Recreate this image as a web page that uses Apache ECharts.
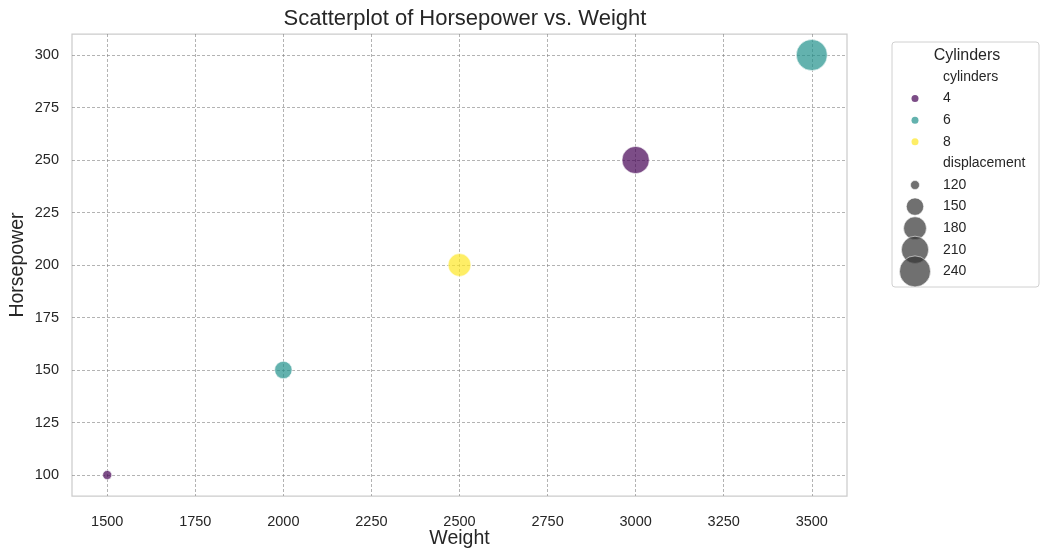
<!DOCTYPE html>
<html>
<head>
<meta charset="utf-8">
<script src="https://cdn.jsdelivr.net/npm/echarts@6/dist/echarts.min.js"></script>
<style>
  html, body { margin: 0; padding: 0; background: #fff; }
  #chart { width: 1048px; height: 557px; }
</style>
</head>
<body>
<div id="chart"></div>
<script>
// data
var weight = [1500, 2000, 2500, 3000, 3500];
var horsepower = [100, 150, 200, 250, 300];
var cylinders = [4, 6, 8, 4, 6];
var displacement = [120, 150, 180, 210, 240];

var cylinderLevels = [4, 6, 8];
var cylinderColors = ['#440154', '#21918c', '#fde725'];
var sizeLevels = [120, 150, 180, 210, 240];
var xTicks = [1500, 1750, 2000, 2250, 2500, 2750, 3000, 3250, 3500];
var yTicks = [100, 125, 150, 175, 200, 225, 250, 275, 300];

var FONT = '"Liberation Sans", Arial, sans-serif';
var TEXT = '#262626';

// area grows linearly with displacement (like seaborn sizes)
function markerSize(v) {
  var a0 = 81, a1 = 961;
  var t = (v - 120) / (240 - 120);
  return Math.sqrt(a0 + t * (a1 - a0));
}

var series = cylinderLevels.map(function (c, k) {
  var pts = [];
  for (var i = 0; i < weight.length; i++) {
    if (cylinders[i] === c) pts.push([weight[i], horsepower[i], displacement[i]]);
  }
  return {
    name: String(c),
    type: 'scatter',
    data: pts,
    symbolSize: function (val) { return markerSize(val[2]); },
    itemStyle: {
      color: cylinderColors[k],
      opacity: 0.7,
      borderColor: '#ffffff',
      borderWidth: 0.8
    }
  };
});

// legend box drawn as graphic
var lx = 915, labelX = 943, legendTop = 42;
var legendItems = [];
legendItems.push({
  type: 'rect', shape: { x: 892, y: legendTop, width: 147, height: 245, r: 3 },
  style: { fill: '#ffffff', stroke: '#d0d0d0', lineWidth: 1 }
});
legendItems.push({
  type: 'text', x: 967, y: 56,
  style: { text: 'Cylinders', font: '16px ' + FONT, fill: TEXT, textAlign: 'center', textVerticalAlign: 'middle' }
});
var rowY = 77, step = 21.6;
function legendText(str, y) {
  legendItems.push({
    type: 'text', x: labelX, y: y,
    style: { text: str, font: '14px ' + FONT, fill: TEXT, textVerticalAlign: 'middle' }
  });
}
legendText('cylinders', rowY);
cylinderLevels.forEach(function (c, k) {
  var y = rowY + step * (k + 1);
  legendItems.push({
    type: 'circle', shape: { cx: lx, cy: y, r: 3.5 },
    style: { fill: cylinderColors[k], opacity: 0.7 }
  });
  legendText(String(c), y);
});
legendText('displacement', rowY + step * 4);
sizeLevels.forEach(function (s, k) {
  var y = rowY + step * (5 + k);
  legendItems.push({
    type: 'circle', shape: { cx: lx, cy: y, r: markerSize(s) / 2 },
    style: { fill: '#333333', opacity: 0.7, stroke: '#ffffff', lineWidth: 0.8 }
  });
  legendText(String(s), y);
});

var chart = echarts.init(document.getElementById('chart'));
chart.setOption({
  backgroundColor: '#ffffff',
  animation: false,
  textStyle: { fontFamily: FONT },
  title: {
    text: 'Scatterplot of Horsepower vs. Weight',
    left: 460, top: 3, textAlign: 'center',
    textStyle: { fontSize: 22, fontWeight: 'normal', color: TEXT, fontFamily: FONT }
  },
  grid: {
    left: 72, right: 201, top: 34, bottom: 61,
    outerBoundsMode: 'none',
    show: true, borderColor: '#cccccc', borderWidth: 1.25, backgroundColor: '#ffffff'
  },
  xAxis: {
    type: 'value', min: 1400, max: 3600,
    name: 'Weight', nameLocation: 'middle', nameGap: 33, nameMoveOverlap: false,
    nameTextStyle: { fontSize: 19.5, color: TEXT, fontFamily: FONT },
    axisLine: { show: false },
    axisTick: { show: false, customValues: xTicks },
    axisLabel: {
      customValues: xTicks, fontSize: 14.5, color: TEXT, margin: 18, fontFamily: FONT,
      formatter: function (v) { return String(v); }
    },
    splitLine: { show: true, lineStyle: { color: '#808080', width: 0.6, type: [3, 2] } }
  },
  yAxis: {
    type: 'value', min: 90, max: 310,
    name: 'Horsepower', nameLocation: 'middle', nameGap: 44, nameMoveOverlap: false,
    nameTextStyle: { fontSize: 19.5, color: TEXT, fontFamily: FONT },
    axisLine: { show: false },
    axisTick: { show: false, customValues: yTicks },
    axisLabel: {
      customValues: yTicks, fontSize: 14.5, color: TEXT, margin: 13, fontFamily: FONT,
      formatter: function (v) { return String(v); }
    },
    splitLine: { show: true, lineStyle: { color: '#808080', width: 0.6, type: [3, 2] } }
  },
  series: series,
  graphic: legendItems
});
</script>
</body>
</html>
